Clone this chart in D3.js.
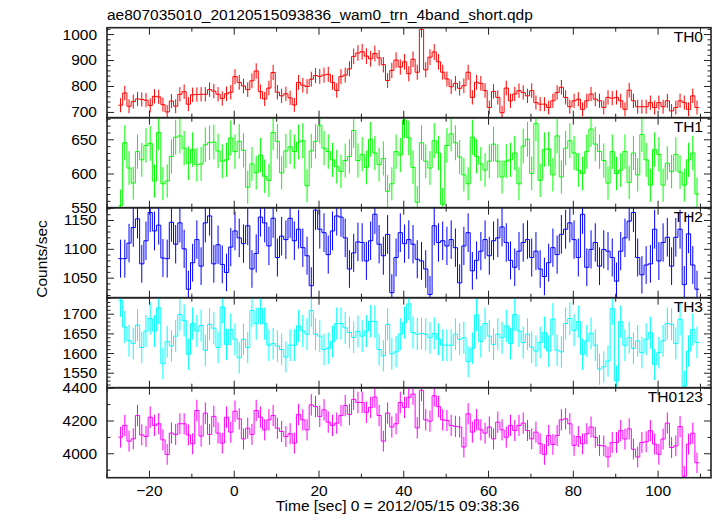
<!DOCTYPE html>
<html><head><meta charset="utf-8">
<script src="https://cdn.jsdelivr.net/npm/d3@7"></script>
<style>
body{margin:0;background:#fff}
text{font-family:"Liberation Sans",Arial,Helvetica,sans-serif;fill:#000}
</style>
</head><body>
<svg id="chart" width="717" height="516"></svg>
<script>
// ---------- data (1-s bins, counts/sec) ----------
const binStart = -27.2;   // start time of first bin [sec]
const binWidth = 1.0;
const th0 = [726,773,722,740,750,748,745,725,760,758,728,700,742,722,768,778,730,766,767,768,768,786,780,768,752,770,776,
836,814,800,786,820,858,778,750,792,852,
776,762,770,754,727,814,803,798,826,840,
837,842,845,814,783,836,842,866,914,927,
932,915,905,925,908,882,821,860,900,873,
893,847,903,853,1018,862,911,931,893,853,
827,797,810,791,801,853,756,814,810,782,
717,779,756,697,792,743,769,782,775,762,
782,736,730,730,717,743,775,795,756,720,
743,749,710,743,769,749,743,717,756,753,
756,743,710,784,743,720,720,720,736,717,
736,720,743,704,717,743,736,710,762,717];
const th1 = [553,645,608,586,632,620,641,644,589,660,585,589,625,653,655,637,615,635,613,614,642,645,646,633,618,620,652,
632,647,634,580,614,601,627,596,590,660,
647,601,633,639,632,646,648,582,633,647,
670,637,632,620,610,603,619,625,663,619,
628,609,650,630,613,622,574,585,632,627,
678,652,609,558,645,618,608,648,630,555,
641,658,645,624,598,585,653,625,614,605,
618,643,618,595,618,620,630,585,640,650,
600,673,590,635,636,598,655,595,637,648,
630,605,600,632,665,643,632,619,586,632,
600,605,632,587,630,598,657,620,583,635,
628,583,615,603,628,602,583,620,630,570];
const th2 = [1083,1083,1110,1137,1152,1074,1114,1163,1131,1141,1084,1083,1146,1108,1145,1100,1030,1076,1116,1070,1145,1157,1074,1107,1073,1059,1103,
1131,1119,1109,1140,1065,1092,1155,1145,1105,1153,
1085,1122,1116,1153,1114,1134,1102,1088,1036,1167,
1134,1128,1090,1131,1157,1155,1119,1065,1093,1112,
1111,1079,1114,1160,1108,1088,1125,1024,1085,1128,
1109,1116,1108,1082,1079,1065,1021,1140,1111,1114,
1105,1116,1102,1041,1105,1128,1062,1080,1096,1116,
1088,1114,1119,1138,1111,1080,1068,1096,1111,1116,
1085,1096,1065,1052,1076,1102,1090,1125,1134,1145,
1116,1085,1160,1068,1099,1111,1070,1099,1096,1085,
1044,1096,1119,1148,1163,1085,1055,1072,1074,1134,
1079,1111,1120,1070,1120,1134,1038,1126,1072,1030];
const th3 = [1734,1666,1631,1624,1671,1614,1656,1688,1656,1715,1573,1629,1618,1643,1698,1683,1597,1675,1656,1670,1607,1673,1663,1614,1717,1622,1660,
1635,1588,1635,1614,1708,1675,1713,1675,1620,1624,
1618,1609,1590,1620,1620,1669,1656,1648,1708,1648,
1643,1609,1612,1629,1675,1675,1664,1652,1640,1655,
1643,1656,1681,1680,1609,1593,1673,1598,1603,1648,
1677,1725,1652,1648,1650,1648,1639,1650,1635,1620,
1620,1620,1648,1635,1639,1578,1612,1697,1629,1675,
1643,1622,1648,1639,1669,1624,1698,1656,1627,1648,
1615,1605,1627,1652,1605,1686,1607,1603,1675,1688,
1658,1680,1597,1631,1650,1620,1559,1565,1580,1713,
1529,1680,1620,1639,1612,1631,1601,1635,1652,1571,
1601,1631,1675,1673,1624,1686,1516,1605,1660,1627];
const th0123 = [4098,4170,4074,4088,4230,4112,4102,4220,4170,4180,4082,3993,4123,4115,4180,4180,4112,4058,4261,4105,4245,4115,4225,4123,4062,4220,4129,
4257,4210,4088,4153,4115,4261,4220,4143,4204,4230,
4153,4133,4102,4119,4062,4237,4204,4143,4295,4285,
4225,4265,4190,4170,4184,4230,4291,4237,4329,4310,
4310,4250,4280,4343,4230,4074,4245,4160,4180,4310,
4280,4341,4361,4155,4384,4204,4196,4351,4285,4204,
4200,4170,4164,4160,4038,4241,4129,4204,4143,4123,
4160,4088,4190,4143,4098,4170,4139,4170,4184,4139,
4088,4129,4058,3993,4108,4054,4108,4204,4210,4180,
4048,4102,4058,4119,4160,4098,4048,
4045,3977,4066,4066,4138,4087,4149,4025,3977,4066,4070,4138,4056,3994,4087,4184,4035,4045,4163,3860,4056,4122,3942];

const bandNames  = ["TH0","TH1","TH2","TH3","TH0123"];
const bandSeries = [th0, th1, th2, th3, th0123];
const bandColors = ["#ff0000","#00ff00","#0000ff","#00ffff","#ff00ff"];
const yDomains   = [[677.8,1024.5],[550,681.6],[1015.3,1171.3],[1511.9,1740.7],[3851,4400]];
const yTickLabels= [[700,800,900,1000],[550,600,650],[1050,1100,1150],[1550,1600,1650,1700],[4000,4200,4400]];
const yMinorStep = [20,10,10,10,100];
const xTickLabels= [-20,0,20,40,60,80,100];
const xMinorTicks= [-30,-10,10,30,50,70,90,110];
const title  = "ae807035010_20120515093836_wam0_trn_4band_short.qdp";
const xTitle = "Time [sec] 0 = 2012/05/15 09:38:36";
const yTitle = "Counts/sec";

// ---------- layout ----------
const L = 107, R = 711, TOP = 27.7, PH = 90, FS = "15.5px";
const svg = d3.select("#chart");
const x = d3.scaleLinear().domain([-29.9, 112.6]).range([L, R]);
const fmtX = d => (d < 0 ? "\u2212" + Math.abs(d) : "" + d);

bandSeries.forEach((vals, p) => {
  const y0 = TOP + p*PH, y1 = y0 + PH;
  const y = d3.scaleLinear().domain(yDomains[p]).range([y1, y0]);
  const g = svg.append("g");
  const clipId = "clip" + p;
  svg.append("clipPath").attr("id", clipId).append("rect")
    .attr("x", L).attr("y", y0).attr("width", R-L).attr("height", PH);

  const bins = vals.map((v, i) => ({t0: binStart + i*binWidth, t1: binStart + (i+1)*binWidth, v, e: Math.sqrt(v)}));
  const data = g.append("g").attr("clip-path", `url(#${clipId})`);
  // error bars
  data.selectAll("line.err").data(bins).join("line")
    .attr("x1", d => x((d.t0+d.t1)/2)).attr("x2", d => x((d.t0+d.t1)/2))
    .attr("y1", d => y(d.v - d.e)).attr("y2", d => y(d.v + d.e))
    .attr("stroke", bandColors[p]).attr("stroke-width", 1);
  // histogram step
  const pts = bins.map(d => [d.t0, d.v]);
  pts.push([bins[bins.length-1].t1, bins[bins.length-1].v]);
  const line = d3.line().x(d => x(d[0])).y(d => y(d[1])).curve(d3.curveStepAfter);
  data.append("path").attr("d", line(pts)).attr("fill", "none")
    .attr("stroke", bandColors[p]).attr("stroke-width", 1);

  // y ticks
  const [lo, hi] = yDomains[p];
  const minor = d3.range(Math.ceil(lo / yMinorStep[p]) * yMinorStep[p], hi, yMinorStep[p])
    .filter(v => !yTickLabels[p].includes(v));
  const axL = g.append("g").attr("transform", `translate(${L},0)`)
    .call(d3.axisLeft(y).tickValues(yTickLabels[p]).tickSize(-7).tickPadding(10).tickFormat(d3.format("d")));
  const axLm = g.append("g").attr("transform", `translate(${L},0)`)
    .call(d3.axisLeft(y).tickValues(minor).tickSize(-3.5).tickFormat(""));
  const axR = g.append("g").attr("transform", `translate(${R},0)`)
    .call(d3.axisRight(y).tickValues(yTickLabels[p]).tickSize(-7).tickFormat(""));
  const axRm = g.append("g").attr("transform", `translate(${R},0)`)
    .call(d3.axisRight(y).tickValues(minor).tickSize(-3.5).tickFormat(""));
  // x ticks top & bottom
  const axT = g.append("g").attr("transform", `translate(0,${y0})`)
    .call(d3.axisTop(x).tickValues(xTickLabels).tickSize(-7).tickFormat(""));
  const axTm = g.append("g").attr("transform", `translate(0,${y0})`)
    .call(d3.axisTop(x).tickValues(xMinorTicks).tickSize(-4).tickFormat(""));
  const axB = g.append("g").attr("transform", `translate(0,${y1})`)
    .call(d3.axisBottom(x).tickValues(xTickLabels).tickSize(-7).tickPadding(7).tickFormat(p === 4 ? fmtX : ""));
  const axBm = g.append("g").attr("transform", `translate(0,${y1})`)
    .call(d3.axisBottom(x).tickValues(xMinorTicks).tickSize(-4).tickFormat(""));
  [axL, axLm, axR, axRm, axT, axTm, axB, axBm].forEach(a => {
    a.select(".domain").remove();
    a.selectAll(".tick line").attr("stroke", "#222").attr("stroke-width", 1);
    a.selectAll(".tick text").style("font-size", FS).attr("fill", "#000")
      .style("font-family", '"Liberation Sans", Arial, sans-serif');
  });
  // frame
  g.append("rect").attr("x", L).attr("y", y0).attr("width", R-L).attr("height", PH)
    .attr("fill", "none").attr("stroke", "#222").attr("stroke-width", 1.6);
  // band label
  g.append("text").attr("x", 703).attr("y", y0 + 14.5).attr("text-anchor", "end")
    .style("font-size", FS).text(bandNames[p]);
});

svg.append("text").attr("x", L).attr("y", 20).style("font-size", FS).text(title);
svg.append("text").attr("x", 397.5).attr("y", 511).attr("text-anchor", "middle")
  .style("font-size", FS).text(xTitle);
svg.append("text").attr("transform", "translate(47,259) rotate(-90)").attr("text-anchor", "middle")
  .style("font-size", FS).text(yTitle);
</script>
</body></html>
